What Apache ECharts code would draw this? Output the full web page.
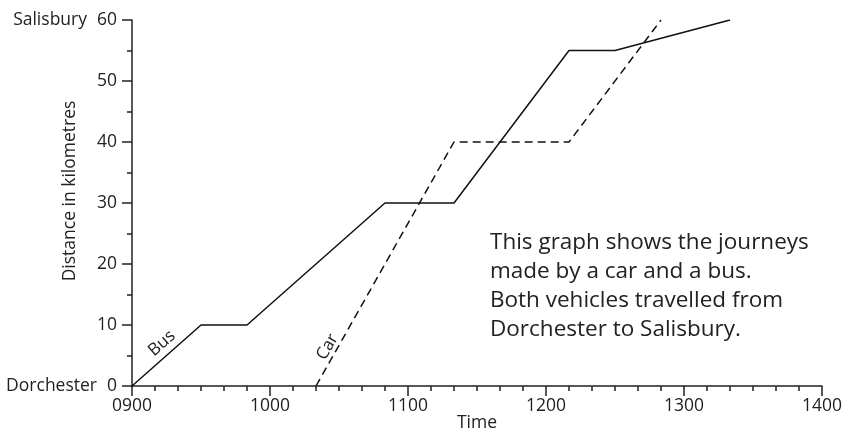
<!DOCTYPE html>
<html>
<head>
<meta charset="utf-8">
<script src="https://cdn.jsdelivr.net/npm/echarts@6/dist/echarts.min.js"></script>
<style>
  html, body { margin: 0; padding: 0; background: #fff; }
  #chart { width: 844px; height: 430px; }
</style>
</head>
<body>
<div id="chart"></div>
<script>
// journey data
var busTimes = ["0900", "0930", "0950", "1050", "1120", "1210", "1230", "1320"];
var busKm = [0, 10, 10, 30, 30, 55, 55, 60];
var carTimes = ["1020", "1120", "1210", "1250"];
var carKm = [0, 40, 40, 60];
var busLabel = { text: "Bus", time: "0913", km: 7 };
var carLabel = { text: "Car", time: "1025", km: 6.4 };
var startTown = "Dorchester";
var endTown = "Salisbury";
var note = [
  "This graph shows the journeys",
  "made by a car and a bus.",
  "Both vehicles travelled from",
  "Dorchester to Salisbury."
];

var FONT = "Open Sans";
var INK = "#222";
var AXIS_FS = 17.5;

// "0930" -> minutes after midnight
function toMin(t) {
  return parseInt(t.slice(0, 2), 10) * 60 + parseInt(t.slice(2), 10);
}
function pad(n) {
  return (n < 10 ? "0" : "") + n;
}

var busData = busTimes.map(function (t, i) { return [toMin(t), busKm[i]]; });
var carData = carTimes.map(function (t, i) { return [toMin(t), carKm[i]]; });

var myChart = echarts.init(document.getElementById("chart"));

var option = {
  backgroundColor: "#fff",
  animation: false,
  textStyle: { fontFamily: FONT, color: INK },
  grid: {
    left: 132,
    right: 22,
    top: 20,
    bottom: 44,
    outerBoundsMode: "none"
  },
  xAxis: {
    type: "value",
    min: 540,
    max: 840,
    interval: 60,
    name: "Time",
    nameLocation: "middle",
    nameGap: 28,
    nameMoveOverlap: false,
    nameTextStyle: { fontFamily: FONT, fontSize: AXIS_FS, color: INK },
    splitLine: { show: false },
    axisLine: { lineStyle: { color: INK, width: 1.5 } },
    axisTick: { length: 10, lineStyle: { color: INK, width: 1.5 } },
    minorTick: { show: true, splitNumber: 6, length: 5, lineStyle: { color: INK, width: 1.5 } },
    axisLabel: {
      margin: 11,
      fontFamily: FONT,
      fontSize: AXIS_FS,
      color: INK,
      formatter: function (v) { return pad(Math.round(v / 60)) + "00"; }
    }
  },
  yAxis: {
    type: "value",
    min: 0,
    max: 60,
    interval: 10,
    name: "Distance in kilometres",
    nameLocation: "middle",
    nameGap: 53,
    nameMoveOverlap: false,
    nameTextStyle: { fontFamily: FONT, fontSize: AXIS_FS, color: INK, padding: [0, 0, 0, 24] },
    splitLine: { show: false },
    axisLine: { show: true, lineStyle: { color: INK, width: 1.5 } },
    axisTick: { show: true, length: 10, lineStyle: { color: INK, width: 1.5 } },
    minorTick: { show: true, splitNumber: 2, length: 5, lineStyle: { color: INK, width: 1.5 } },
    axisLabel: {
      margin: 15,
      fontFamily: FONT,
      fontSize: AXIS_FS,
      color: INK,
      formatter: function (v) {
        if (v === 60) return "{town|" + endTown + "}" + v;
        if (v === 0) return "{town|" + startTown + "}" + v;
        return String(v);
      },
      rich: {
        town: { fontFamily: FONT, fontSize: AXIS_FS, color: INK, padding: [0, 10, 0, 0] }
      }
    }
  },
  series: [
    {
      name: "Bus",
      type: "line",
      data: busData,
      symbol: "none",
      lineStyle: { color: "#111", width: 1.5 },
      markPoint: {
        symbol: "circle",
        symbolSize: 0,
        data: [{
          coord: [toMin(busLabel.time), busLabel.km],
          label: {
            show: true,
            position: "inside",
            formatter: busLabel.text,
            rotate: 41,
            fontFamily: FONT,
            fontSize: 17,
            color: INK
          }
        }]
      }
    },
    {
      name: "Car",
      type: "line",
      data: carData,
      symbol: "none",
      lineStyle: { color: "#111", width: 1.5, type: [8, 5] },
      markPoint: {
        symbol: "circle",
        symbolSize: 0,
        data: [{
          coord: [toMin(carLabel.time), carLabel.km],
          label: {
            show: true,
            position: "inside",
            formatter: carLabel.text,
            rotate: 60,
            fontFamily: FONT,
            fontSize: 17,
            color: INK
          }
        }]
      }
    }
  ],
  graphic: [
    {
      type: "text",
      left: 490,
      top: 228,
      style: {
        text: note.join("\n"),
        font: "22.5px '" + FONT + "'",
        lineHeight: 29,
        fill: INK
      }
    }
  ]
};

myChart.setOption(option);
window.onresize = function () {
  myChart.resize();
};
</script>
</body>
</html>
